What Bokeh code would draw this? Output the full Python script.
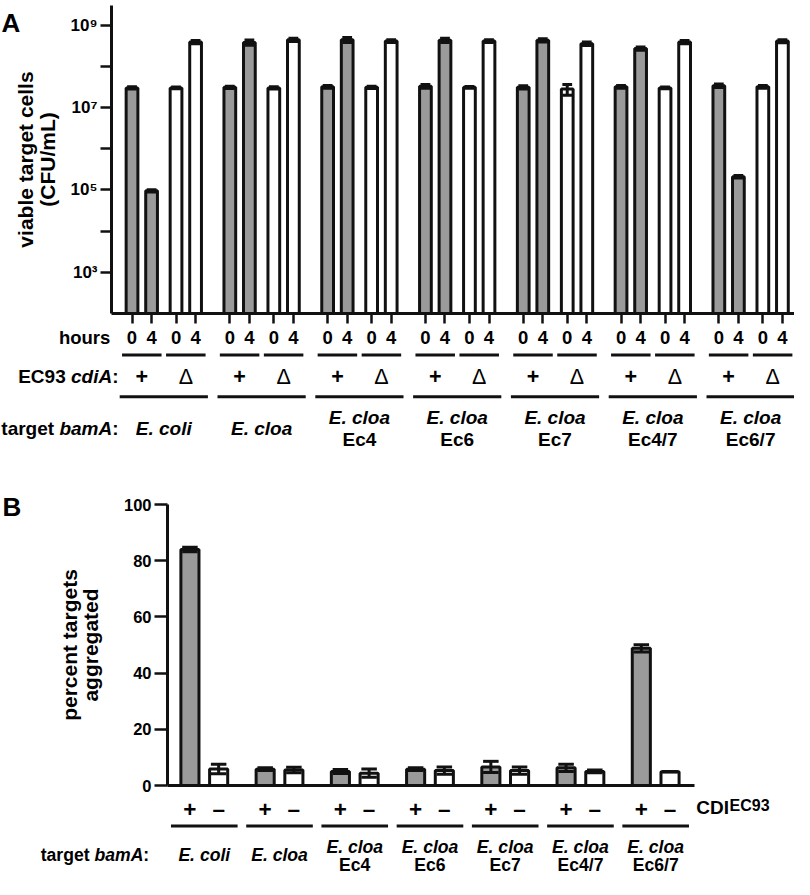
import math
from bokeh.plotting import figure
from bokeh.models import Range1d, FixedTicker, ColumnDataSource
from bokeh.layouts import column, row
from bokeh.embed import file_html
from bokeh.resources import INLINE
from bokeh.core.properties import value

# ---------------- data ----------------
bamA_line1 = ["E. coli", "E. cloa", "E. cloa", "E. cloa", "E. cloa", "E. cloa", "E. cloa"]
bamA_line2 = ["", "", "Ec4", "Ec6", "Ec7", "Ec4/7", "Ec6/7"]
hours = ["0", "4", "0", "4"]
cdiA = ["+", "\u0394"]
cdi_B = ["+", "\u2013"]
label_A = ["viable target cells", "(CFU/mL)"]
label_B = ["percent targets", "aggregated"]

# Panel A: viable target cells (CFU/mL)
a_plus_0h = [3.0e7, 3.1e7, 3.2e7, 3.3e7, 3.1e7, 3.2e7, 3.4e7]
a_plus_4h = [9.5e4, 3.8e8, 4.4e8, 4.3e8, 4.3e8, 2.7e8, 2.1e5]
a_delta_0h = [3.0e7, 3.0e7, 3.1e7, 3.1e7, 2.8e7, 3.0e7, 3.2e7]
a_delta_4h = [3.9e8, 4.4e8, 4.1e8, 4.1e8, 3.55e8, 3.9e8, 4.1e8]
a_plus_0h_err = [2.0e6, 2.0e6, 2.5e6, 3.5e6, 3.0e6, 2.5e6, 3.5e6]
a_plus_4h_err = [6.0e3, 5.5e7, 6.0e7, 5.0e7, 4.0e7, 2.5e7, 1.5e4]
a_delta_0h_err = [1.5e6, 2.0e6, 2.0e6, 1.5e6, 8.0e6, 1.5e6, 2.5e6]
a_delta_4h_err = [3.5e7, 4.0e7, 3.0e7, 3.0e7, 3.5e7, 3.5e7, 3.5e7]
a_label_ticks = [1e3, 1e5, 1e7, 1e9]
a_minor_ticks = [1e4, 1e6, 1e8]
a_tick_labels = ["10\u00b3", "10\u2075", "10\u2077", "10\u2079"]

# Panel B: percent targets aggregated
b_plus = [84.0, 5.8, 5.0, 5.8, 6.6, 6.3, 48.8]
b_plus_err = [0.8, 0.5, 0.7, 0.5, 2.0, 1.3, 1.3]
b_minus = [5.9, 5.5, 4.4, 5.3, 5.3, 5.0, 4.9]
b_minus_err = [1.7, 1.0, 1.5, 1.3, 1.3, 0.5, 0.0]
b_ticks = [0, 20, 40, 60, 80, 100]

# ---------------- layout / style ----------------
S = 0.98
W = 794
FONT = "Liberation Sans"
GRAY = "#9a9a9a"
INK = "#111111"

A_H, A_TOP, A_BOT, A_LEFT = 325, 5, 12, 111
LWA = 66                     # width of the left strip holding "A" and the axis title
A_UPP = S * 19.96
A_STEP = 5.0
A_OFF = [0.0, 1.0, 2.25, 3.25]
A_X0 = -(S * 134.2 - A_LEFT) / A_UPP
A_X1 = A_X0 + (W - A_LEFT) / A_UPP
A_YMIN, A_YMAX = 1e2, 3e9

LA_H = 145

B_H, B_TOP, B_BOT, B_LEFT, B_RIGHT = 325, 34, 10, 167, 694
LWB = 105
B_UPP = S * 29.3
B_STEP = 2.62
B_OFF = [0.0, 1.0]
B_X0 = -(S * 193.3 - B_LEFT) / B_UPP
B_X1 = B_X0 + (B_RIGHT - B_LEFT) / B_UPP
B_Y0 = 470                   # canvas y of the top of panel B

LB_H = 82


def style_common(p):
    p.outline_line_color = None
    p.background_fill_color = "white"
    p.border_fill_color = "white"


def txt(p, x, y, t, size, style="bold", align="center", baseline="middle", angle=0.0):
    p.text(x=x, y=y, text=t, text_font=value(FONT), text_font_style=style,
           text_font_size=size, text_align=align, text_baseline=baseline,
           text_color="black", angle=angle)


def blank(width, height, xr, yr):
    f = figure(width=width, height=height, output_backend="svg", toolbar_location=None,
               x_range=xr, y_range=yr, x_axis_type=None, y_axis_type=None,
               min_border_left=0, min_border_right=0, min_border_top=0, min_border_bottom=0,
               frame_align=False)
    style_common(f)
    return f


# ================= Panel A =================
pa = figure(width=W - LWA, height=A_H, output_backend="svg", toolbar_location=None,
            y_axis_type="log", x_range=Range1d(A_X0, A_X1), y_range=Range1d(A_YMIN, A_YMAX),
            min_border_left=A_LEFT - LWA, min_border_right=0, min_border_top=A_TOP,
            min_border_bottom=A_BOT, frame_align=False)
style_common(pa)
pa.grid.grid_line_color = None

series_a = [a_plus_0h, a_plus_4h, a_delta_0h, a_delta_4h]
errs_a = [a_plus_0h_err, a_plus_4h_err, a_delta_0h_err, a_delta_4h_err]
xa, ta, lo_a, hi_a, col_a = [], [], [], [], []
for g in range(7):
    for j in range(4):
        v = series_a[j][g]
        e = errs_a[j][g]
        xa.append(g * A_STEP + A_OFF[j])
        ta.append(v)
        lo_a.append(v - e)
        hi_a.append(v + e)
        col_a.append(GRAY if j < 2 else "white")
cap_a = 0.25
src_a = ColumnDataSource(dict(x=xa, top=ta, lo=lo_a, hi=hi_a, color=col_a,
                              xl=[x - cap_a for x in xa], xr=[x + cap_a for x in xa]))
pa.vbar(x="x", top="top", bottom=10, width=0.6, fill_color="color",
        line_color=INK, line_width=3, source=src_a)
pa.segment(x0="x", y0="lo", x1="x", y1="hi", line_color=INK, line_width=3, source=src_a)
pa.segment(x0="xl", y0="hi", x1="xr", y1="hi", line_color=INK, line_width=3, source=src_a)
pa.segment(x0="xl", y0="lo", x1="xr", y1="lo", line_color=INK, line_width=3, source=src_a)

pa.yaxis.ticker = FixedTicker(ticks=a_label_ticks, minor_ticks=a_minor_ticks)
pa.yaxis.major_label_overrides = {t: l for t, l in zip(a_label_ticks, a_tick_labels)}
pa.yaxis.major_label_text_font = FONT
pa.yaxis.major_label_text_font_style = "bold"
pa.yaxis.major_label_text_font_size = "17px"
pa.yaxis.major_label_text_color = "black"
pa.yaxis.major_label_standoff = 3
pa.yaxis.major_tick_in = 0
pa.yaxis.major_tick_out = 11
pa.yaxis.minor_tick_in = 0
pa.yaxis.minor_tick_out = 11
pa.yaxis.major_tick_line_width = 2.5
pa.yaxis.minor_tick_line_width = 2.5
pa.yaxis.major_tick_line_color = INK
pa.yaxis.minor_tick_line_color = INK
pa.yaxis.axis_line_width = 3
pa.yaxis.axis_line_color = INK

# x axis: tick marks only (as minor ticks, which carry no labels)
pa.xaxis.ticker = FixedTicker(ticks=[], minor_ticks=xa)
pa.xaxis.major_label_standoff = 0
pa.xaxis.major_tick_in = 0
pa.xaxis.major_tick_out = 0
pa.xaxis.minor_tick_in = 0
pa.xaxis.minor_tick_out = 10
pa.xaxis.minor_tick_line_width = 2.5
pa.xaxis.minor_tick_line_color = INK
pa.xaxis.axis_line_width = 3
pa.xaxis.axis_line_color = INK

# left strip of panel A: panel letter and axis title
sa = blank(LWA, A_H, Range1d(0, LWA), Range1d(A_H, 0))
txt(sa, [1], [22.8], ["A"], "26px", align="left", baseline="alphabetic")
a_mid = A_TOP + (A_H - A_TOP - A_BOT) / 2
txt(sa, [24.5, 47.0], [a_mid, a_mid], label_A, "21px", angle=math.pi / 2)

# ================= Panel A labels =================
LA_X0 = A_X0 - A_LEFT / A_UPP
la = blank(W, LA_H, Range1d(LA_X0, A_X1), Range1d(LA_H, 0))


def pxa(c):
    return LA_X0 + c / A_UPP


# hours row
txt(la, xa, [12.1] * len(xa), [hours[j % 4] for j in range(len(xa))], "18.5px")
txt(la, [pxa(109.8)], [12.1], ["hours"], "18.5px", align="right")
# short lines under each pair
sx0, sx1, pc, pt = [], [], [], []
for g in range(7):
    for k in range(2):
        a0 = g * A_STEP + A_OFF[2 * k]
        a1 = g * A_STEP + A_OFF[2 * k + 1]
        sx0.append(a0 - 0.51)
        sx1.append(a1 + 0.51)
        pc.append((a0 + a1) / 2)
        pt.append(cdiA[k])
la.segment(x0=sx0, y0=[29.5] * len(sx0), x1=sx1, y1=[29.5] * len(sx0), line_color=INK, line_width=3)
# cdiA row
plus_idx = [i for i in range(len(pt)) if pt[i] == "+"]
delta_idx = [i for i in range(len(pt)) if pt[i] != "+"]
txt(la, [pc[i] for i in plus_idx], [51.3] * len(plus_idx), [pt[i] for i in plus_idx], "21.5px")
txt(la, [pc[i] for i in delta_idx], [51.3] * len(delta_idx), [pt[i] for i in delta_idx], "21.5px", style="normal")
fs = 19.0
txt(la, [pxa(118)], [51.3], [":"], "19px", align="right")
txt(la, [pxa(118 - 0.333 * fs)], [51.3], ["cdiA"], "19px", style="bold italic", align="right")
txt(la, [pxa(118 - 0.333 * fs - 2.167 * fs - 0.278 * fs)], [51.3], ["EC93"], "19px", align="right")
# long lines under groups
gx0 = [g * A_STEP + A_OFF[0] - 0.63 for g in range(7)]
gx1 = [g * A_STEP + A_OFF[3] + 0.63 for g in range(7)]
la.segment(x0=gx0, y0=[71.2] * 7, x1=gx1, y1=[71.2] * 7, line_color=INK, line_width=3)
# bamA row
gc = [g * A_STEP + (A_OFF[0] + A_OFF[3]) / 2 for g in range(7)]
y1 = [103.0 if bamA_line2[g] == "" else 91.5 for g in range(7)]
txt(la, gc, y1, bamA_line1, "19px", style="bold italic")
two = [g for g in range(7) if bamA_line2[g]]
txt(la, [gc[g] for g in two], [114.3] * len(two), [bamA_line2[g] for g in two], "19px")
txt(la, [pxa(118)], [103.0], [":"], "19px", align="right")
txt(la, [pxa(118 - 0.333 * fs)], [103.0], ["bamA"], "19px", style="bold italic", align="right")
txt(la, [pxa(118 - 0.333 * fs - 2.778 * fs - 0.278 * fs)], [103.0], ["target"], "19px", align="right")

# ================= Panel B =================
pb = figure(width=W - LWB, height=B_H, output_backend="svg", toolbar_location=None,
            x_range=Range1d(B_X0, B_X1), y_range=Range1d(0, 100),
            min_border_left=B_LEFT - LWB, min_border_right=W - B_RIGHT, min_border_top=B_TOP,
            min_border_bottom=B_BOT, frame_align=False)
style_common(pb)
pb.grid.grid_line_color = None

xb, tb, lo_b, hi_b, col_b = [], [], [], [], []
for g in range(7):
    for j, (vals, errs) in enumerate([(b_plus, b_plus_err), (b_minus, b_minus_err)]):
        xb.append(g * B_STEP + B_OFF[j])
        tb.append(vals[g])
        lo_b.append(vals[g] - errs[g])
        hi_b.append(vals[g] + errs[g])
        col_b.append(GRAY if j == 0 else "white")
cap_b = 0.27
src_b = ColumnDataSource(dict(x=xb, top=tb, lo=lo_b, hi=hi_b, color=col_b,
                              xl=[x - cap_b for x in xb], xr=[x + cap_b for x in xb]))
pb.vbar(x="x", top="top", bottom=0, width=0.63, fill_color="color",
        line_color=INK, line_width=3, source=src_b)
pb.segment(x0="x", y0="lo", x1="x", y1="hi", line_color=INK, line_width=3, source=src_b)
pb.segment(x0="xl", y0="hi", x1="xr", y1="hi", line_color=INK, line_width=3, source=src_b)
pb.segment(x0="xl", y0="lo", x1="xr", y1="lo", line_color=INK, line_width=3, source=src_b)

pb.yaxis.ticker = FixedTicker(ticks=b_ticks, minor_ticks=[])
pb.yaxis.major_label_text_font = FONT
pb.yaxis.major_label_text_font_style = "bold"
pb.yaxis.major_label_text_font_size = "16.5px"
pb.yaxis.major_label_text_color = "black"
pb.yaxis.major_label_standoff = 3
pb.yaxis.major_tick_in = 0
pb.yaxis.major_tick_out = 13
pb.yaxis.major_tick_line_width = 2.5
pb.yaxis.major_tick_line_color = INK
pb.yaxis.axis_line_width = 3
pb.yaxis.axis_line_color = INK

pb.xaxis.ticker = FixedTicker(ticks=[], minor_ticks=[])
pb.xaxis.major_label_standoff = 0
pb.xaxis.major_tick_in = 0
pb.xaxis.major_tick_out = 0
pb.xaxis.minor_tick_out = 0
pb.xaxis.axis_line_width = 3
pb.xaxis.axis_line_color = INK

# left strip of panel B: panel letter and axis title
sb = blank(LWB, B_H, Range1d(0, LWB), Range1d(B_H, 0))
txt(sb, [2], [S * 517 - B_Y0], ["B"], "26px", align="left", baseline="alphabetic")
b_mid = B_TOP + (B_H - B_TOP - B_BOT) / 2
txt(sb, [68.6, 90.2], [b_mid, b_mid], label_B, "21px", angle=math.pi / 2)

# ================= Panel B labels =================
LB_X0 = B_X0 - B_LEFT / B_UPP
LB_X1 = B_X1 + (W - B_RIGHT) / B_UPP
lb = blank(W, LB_H, Range1d(LB_X0, LB_X1), Range1d(LB_H, 0))


def pxb(c):
    return LB_X0 + c / B_UPP


txt(lb, xb, [13.5] * len(xb), [cdi_B[i % 2] for i in range(len(xb))], "22.5px")
txt(lb, [pxb(695.8)], [12.0], ["CDI"], "19px", align="left")
txt(lb, [pxb(729.0)], [9.6], ["EC93"], "16px", align="left")
bx0 = [g * B_STEP + B_OFF[0] - 0.66 for g in range(7)]
bx1 = [g * B_STEP + B_OFF[1] + 0.66 for g in range(7)]
lb.segment(x0=bx0, y0=[30.5] * 7, x1=bx1, y1=[30.5] * 7, line_color=INK, line_width=3)
gcb = [g * B_STEP + (B_OFF[0] + B_OFF[1]) / 2 for g in range(7)]
yb1 = [59.3 if bamA_line2[g] == "" else 51.4 for g in range(7)]
txt(lb, gcb, yb1, bamA_line1, "17.6px", style="bold italic")
txt(lb, [gcb[g] for g in two], [69.1] * len(two), [bamA_line2[g] for g in two], "17.6px")
fb = 17.6
txt(lb, [pxb(148.7)], [59.3], [":"], "17.6px", align="right")
txt(lb, [pxb(148.7 - 0.333 * fb)], [59.3], ["bamA"], "17.6px", style="bold italic", align="right")
txt(lb, [pxb(148.7 - 0.333 * fb - 2.778 * fb - 0.278 * fb)], [59.3], ["target"], "17.6px", align="right")

layout = column(row(sa, pa, spacing=0), la, row(sb, pb, spacing=0), lb, spacing=0)
open("out.html", "w").write(file_html(layout, INLINE))
